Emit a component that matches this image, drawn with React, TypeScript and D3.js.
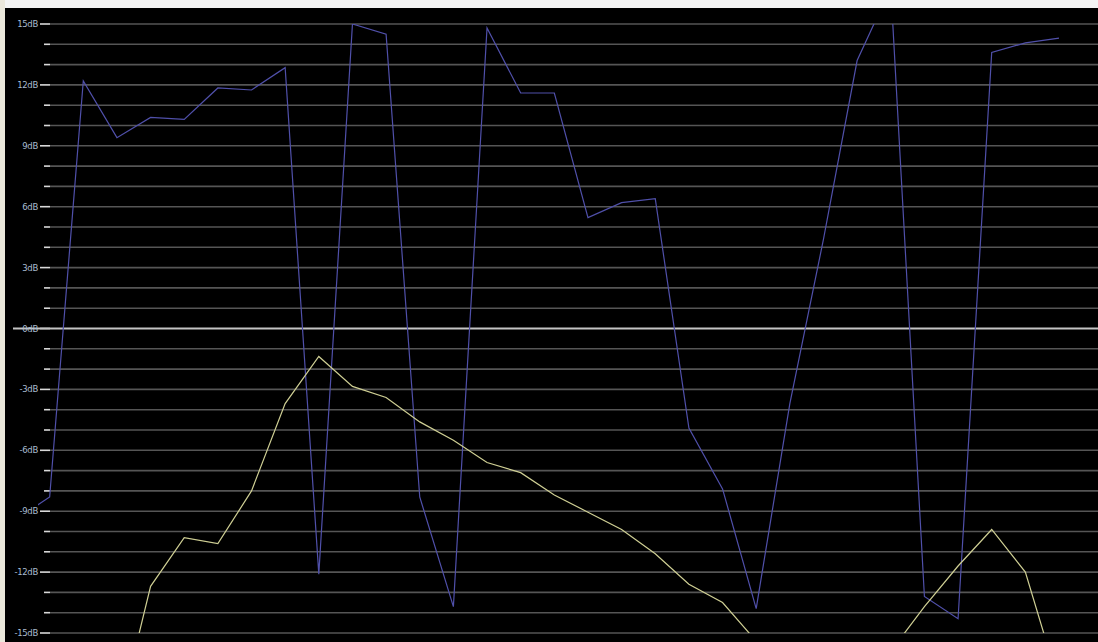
import React from "react";
import * as d3 from "d3";

const W = 1098;
const H = 642;

// index positions (equal spacing)
const pointIndex: number[] = d3.range(32);

// dB values (values outside ±15 dB are clipped by the plot)
const blueSeries: (number | null)[] = [
  -9.4, -8.3, 12.2, 9.4, 10.4, 10.3, 11.85, 11.75, 12.85, -12.1,
  15.0, 14.5, -8.3, -13.7, 14.8, 11.6, 11.6, 5.46, 6.2, 6.4,
  -4.9, -7.9, -13.8, -3.7, 4.4, 13.2, 16.8, -13.2, -14.3, 13.6,
  14.07, 14.3,
];

const yellowSeries: (number | null)[] = [
  null, null, null, -19.5, -12.7, -10.3, -10.6, -8.0, -3.7, -1.38,
  -2.85, -3.4, -4.6, -5.5, -6.6, -7.1, -8.2, -9.05, -9.9, -11.1,
  -12.6, -13.5, -15.4, null, null, null, -15.9, -13.7, -11.7, -9.9,
  -12.0, -17.5,
];

const tickValues: number[] = d3.range(-15, 16, 1);
const labelValues: number[] = [15, 12, 9, 6, 3, 0, -3, -6, -9, -12, -15];
const labelText: string[] = labelValues.map((v) => `${v}dB`);

export default function App() {
  const x = d3.scaleLinear().domain([0, 31]).range([16, 1059]);
  const y = d3.scaleLinear().domain([-15, 15]).range([633, 24]);

  const line = d3
    .line<number | null>()
    .defined((d) => d !== null)
    .x((_, i) => x(pointIndex[i]))
    .y((d) => y(d as number));

  const plotTop = y(15);
  const plotBottom = y(-15);

  return (
    <svg
      width={W}
      height={H}
      style={{ position: "absolute", left: 0, top: 0, display: "block" }}
    >
      <defs>
        <clipPath id="plotClip">
          <rect x={38} y={plotTop} width={W - 38} height={plotBottom - plotTop} />
        </clipPath>
      </defs>
      <rect x={0} y={0} width={W} height={H} fill="#000" />
      <rect x={0} y={0} width={W} height={8} fill="#f4f4f4" />
      <rect x={0} y={0} width={5} height={H} fill="#ebe8dc" />

      {tickValues.map((v) => (
        <g key={v}>
          {v !== 0 && (
            <line
              x1={50}
              x2={W}
              y1={y(v)}
              y2={y(v)}
              stroke="#555555"
              strokeWidth={1.6}
            />
          )}
          <line
            x1={v % 3 === 0 ? 40 : 44}
            x2={50}
            y1={y(v)}
            y2={y(v)}
            stroke="#d8d8d8"
            strokeWidth={1.6}
          />
        </g>
      ))}
      <line x1={13} x2={W} y1={y(0)} y2={y(0)} stroke="#c4c4c4" strokeWidth={2} />

      {labelValues.map((v, i) => (
        <text
          key={v}
          x={38}
          y={y(v) + 3}
          textAnchor="end"
          fontFamily="DejaVu Sans, sans-serif"
          fontSize={8.5}
          letterSpacing={-0.3}
          fill="#a8bcd0"
        >
          {labelText[i]}
        </text>
      ))}

      <g clipPath="url(#plotClip)">
        <path d={line(blueSeries) || ""} fill="none" stroke="#5050aa" strokeWidth={1.2} />
        <path d={line(yellowSeries) || ""} fill="none" stroke="#cfcf94" strokeWidth={1.2} />
      </g>
    </svg>
  );
}
